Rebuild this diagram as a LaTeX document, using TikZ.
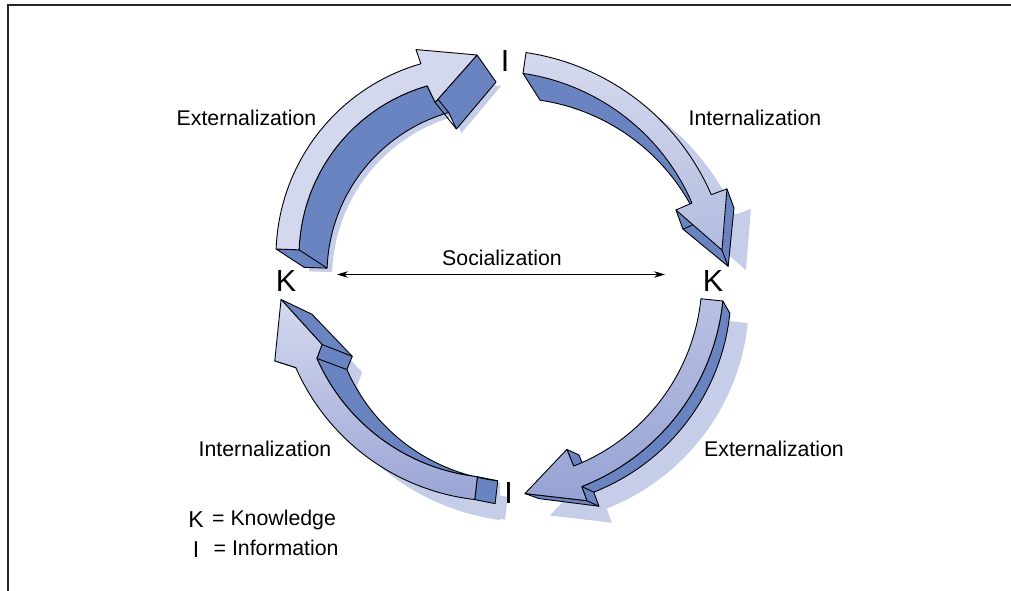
\documentclass[tikz,border=0pt]{standalone}
\usepackage{fontspec}
\setmainfont{Liberation Sans}
\usetikzlibrary{arrows.meta,calc}
\definecolor{lightA}{HTML}{D4D8EE}
\definecolor{darkB}{HTML}{6A84C1}
\definecolor{shadowC}{HTML}{C6CDE8}
\definecolor{frameC}{HTML}{262626}
\definecolor{gTwoA}{HTML}{D6DAEF}
\definecolor{gTwoB}{HTML}{B3BCDF}
\definecolor{gThreeA}{HTML}{B8C1E2}
\definecolor{gThreeB}{HTML}{97A3D4}
\definecolor{gFourA}{HTML}{D5D9EF}
\definecolor{gFourB}{HTML}{9AA5D5}
% key points of one arrow: prefix, centre x, centre y, radius reduction
\newcommand\defpts[4]{%
  \coordinate (#1To) at ($(#2,#3)+(\Tt:{\Ro-#4})$);
  \coordinate (#1Ti) at ($(#2,#3)+(\Tt:{\Ri-#4})$);
  \coordinate (#1No) at ($(#2,#3)+(\Tn:{\Ro-#4})$);
  \coordinate (#1Ni) at ($(#2,#3)+(\Tn:{\Ri-#4})$);
  \coordinate (#1Bo) at ($(#2,#3)+(\Tbo:{\Rbo-#4})$);
  \coordinate (#1Bi) at ($(#2,#3)+(\Tbi:{\Rbi-#4})$);
  \coordinate (#1P)  at ($(#2,#3)+(\Tp:{\Rp-#4})$);
}
\newcommand\arcto[5]{-- plot[domain=#4:#5,samples=40]({#1+(#3)*cos(\x)},{#2+(#3)*sin(\x)})}
\newcommand\facepath[4]{(#1To) \arcto{#2}{#3}{\Ro-#4}{\Tt}{\Tn} -- (#1Bo) -- (#1P) -- (#1Bi) -- (#1Ni) \arcto{#2}{#3}{\Ri-#4}{\Tn}{\Tt} -- cycle}
\tikzset{
  outl/.style={draw=black, line width=0.9pt, line join=round},
  darkf/.style={outl, fill=darkB},
  shad/.style={fill=shadowC},
  ridge/.style={draw=black, line width=0.9pt, line join=round},
  lbl/.style={inner sep=0pt, font=\fontsize{21.3}{25}\selectfont},
  big/.style={inner sep=0pt, font=\fontsize{30.5}{36}\selectfont},
  leg/.style={inner sep=0pt, font=\fontsize{23}{28}\selectfont}
}
\begin{document}
\begin{tikzpicture}[x=1pt,y=-1pt]
\useasboundingbox (0,0) rectangle (1011,591);
\fill[white] (0,0) rectangle (1011,591);
\draw[frameC, line width=2pt] (7.5,591) -- (7.5,5.5) -- (1011,5.5);

% ---------- shadows ----------
% arrow 1
\def\Tt{182}\def\Tn{254}\def\Tbo{253.8}\def\Tbi{255.1}\def\Tp{270.3}
\def\Ri{177}\def\Ro{200}\def\Rbo{215}\def\Rbi{159}\def\Rp{201}
\defpts{as}{481}{260}{0}\defpts{asx}{500}{278}{9}
\path[shad] \facepath{as}{481}{260}{0};
\path[shad] \facepath{asx}{500}{278}{9};
% arrow 2
\def\Tt{278.4}\def\Tn{336.6}\def\Tbo{336.8}\def\Tbi{336.6}\def\Tp{350.2}
\def\Ri{219}\def\Ro{240}\def\Rbo{256.7}\def\Rbi{201.5}\def\Rp{234.4}
\defpts{bs}{515}{310}{0}
\path[shad] \facepath{bs}{515}{310}{0};
% arrow 3
\def\Tt{5.9}\def\Tn{68.6}\def\Tbo{68.7}\def\Tbi{68.7}\def\Tp{83.4}
\def\Ri{202}\def\Ro{224}\def\Rbo{239}\def\Rbi{184}\def\Rp{217}
\defpts{cs}{525}{300}{0}
\path[shad] \facepath{cs}{525}{300}{0};
% arrow 4
\def\Tt{96.5}\def\Tn{156.3}\def\Tbo{159.8}\def\Tbi{159.5}\def\Tp{174.4}
\def\Ri{200}\def\Ro{223}\def\Rbo{240}\def\Rbi{190}\def\Rp{220}
\defpts{dsx}{529}{310}{12}
\path[shad] \facepath{dsx}{529}{310}{12};
\path[shad] plot[domain=90:123,samples=40]({500+(242-19*(\x-90)/33)*cos(\x)},{278+(242-19*(\x-90)/33)*sin(\x)})
   \arcto{500}{278}{205}{123}{90} -- cycle;

% ---------- arrow 1 : K -> I (top left) ----------
\def\Tt{182}\def\Tn{254}\def\Tbo{253.8}\def\Tbi{255.1}\def\Tp{270.3}
\def\Ri{177}\def\Ro{200}\def\Rbo{215}\def\Rbi{159}\def\Rp{201}
\defpts{a}{476}{256}{0}\defpts{ax}{495}{274}{9}
\path[darkf] (aTo) -- (aTi) \arcto{476}{256}{\Ri}{\Tt}{\Tn} -- (aBi) -- (aP) -- (axP) -- (axBi) -- (axNi) \arcto{495}{274}{\Ri-9}{\Tn}{\Tt} -- (axTo) -- cycle;
\draw[ridge] (aTi) -- (axTi) (aNi) -- (axNi) (aBi) -- (axBi);
\path[outl, fill=lightA] \facepath{a}{476}{256}{0};

% ---------- arrow 2 : I -> K (top right) ----------
\def\Tt{278.4}\def\Tn{336.6}\def\Tbo{336.8}\def\Tbi{336.6}\def\Tp{350.2}
\def\Ri{219}\def\Ro{240}\def\Rbo{256.7}\def\Rbi{201.5}\def\Rp{234.4}
\defpts{b}{491}{290}{0}\defpts{bx}{510}{304}{13}
\fill[darkB] (bTi) \arcto{491}{290}{\Ri}{\Tt}{\Tn} -- (bxNi) \arcto{510}{304}{\Ri-13}{\Tn}{\Tt} -- cycle;
\fill[darkB] (bNi) -- (bBi) -- (bxBi) -- (bxNi) -- cycle;
\fill[darkB] (bBi) -- (bP) -- (bxP) -- (bxBi) -- cycle;
\fill[darkB] (bP) -- (bBo) -- (bxBo) -- (bxP) -- cycle;
\draw[ridge] (bTi) -- (bxTi) \arcto{510}{304}{\Ri-13}{\Tt}{\Tn} -- (bxBi) -- (bxP) -- (bxBo) -- (bBo);
\draw[ridge] (bBi) -- (bxBi) (bP) -- (bxP);
\path[outl, top color=gTwoA, bottom color=gTwoB] \facepath{b}{491}{290}{0};

% ---------- arrow 3 : K -> I (bottom right) ----------
\def\Tt{5.9}\def\Tn{68.6}\def\Tbo{68.7}\def\Tbi{68.7}\def\Tp{83.4}
\def\Ri{202}\def\Ro{224}\def\Rbo{239}\def\Rbi{184}\def\Rp{217}
\defpts{c}{500}{278}{0}\defpts{cx}{515}{291}{8}
\path[darkf] (cTo) \arcto{500}{278}{\Ro}{\Tt}{\Tn} -- (cBo) -- (cP) -- (cxP) -- (cxBo) -- (cxNo) \arcto{515}{291}{\Ro-8}{\Tn}{\Tt} -- cycle;
\path[darkf] (cNi) -- (cBi) -- (cxBi) -- (cxNi) -- cycle;
\draw[ridge] (cNo) -- (cxNo) (cBo) -- (cxBo);
\path[outl, top color=gThreeA, bottom color=gThreeB] \facepath{c}{500}{278}{0};

% ---------- arrow 4 : I -> K (bottom left) ----------
\def\Tt{96.5}\def\Tn{156.3}\def\Tbo{159.8}\def\Tbi{159.5}\def\Tp{174.4}
\def\Ri{200}\def\Ro{223}\def\Rbo{240}\def\Rbi{190}\def\Rp{220}
\defpts{d}{500}{278}{0}\defpts{dx}{519}{294}{12}
\path[darkf] (dTo) -- (dTi) \arcto{500}{278}{\Ri}{\Tt}{\Tn} -- (dBi) -- (dP) -- (dxP) -- (dxBi) -- (dxNi) \arcto{519}{294}{\Ri-12}{\Tn}{\Tt} -- (dxTo) -- cycle;
\coordinate (dBb) at (291.7,356.7);
\path[darkf] (dBo) -- (dBb) -- (dNo) -- cycle;
\draw[ridge] (dTi) -- (dxTi) (dBi) -- (dxBi) (dNi) -- (dxNi);
\path[outl, top color=gFourA, bottom color=gFourB] \facepath{d}{500}{278}{0};

% ---------- letters and labels ----------
\node[big, anchor=base] (kL) at (286,291) {K};
\node[big, anchor=base] (kR) at (713,291) {K};
\node[big, anchor=base] (iT) at (505,71.7) {I};
\node[big, anchor=base] (iB) at (508.5,503) {I};

\node[lbl, anchor=base] (ext1) at (246.5,125) {Externalization};
\node[lbl, anchor=base] (int1) at (755,125) {Internalization};
\node[lbl, anchor=base] (soc) at (502,265) {Socialization};
\node[lbl, anchor=base] (int2) at (265,456) {Internalization};
\node[lbl, anchor=base] (ext2) at (774,456) {Externalization};

\coordinate (sL) at (337,274.5);
\coordinate (sR) at (665,274.5);
\draw[line width=0.8pt, {Stealth[length=11pt,width=6.5pt]}-{Stealth[length=11pt,width=6.5pt]}] (sL) -- (sR);

\node[leg, anchor=base] (lk) at (196,527) {K};
\node[lbl, anchor=base west] (lkt) at (212,525) {= Knowledge};
\node[leg, anchor=base] (li) at (196,557) {I};
\node[lbl, anchor=base west] (lit) at (213.5,555) {= Information};
\end{tikzpicture}
\end{document}
